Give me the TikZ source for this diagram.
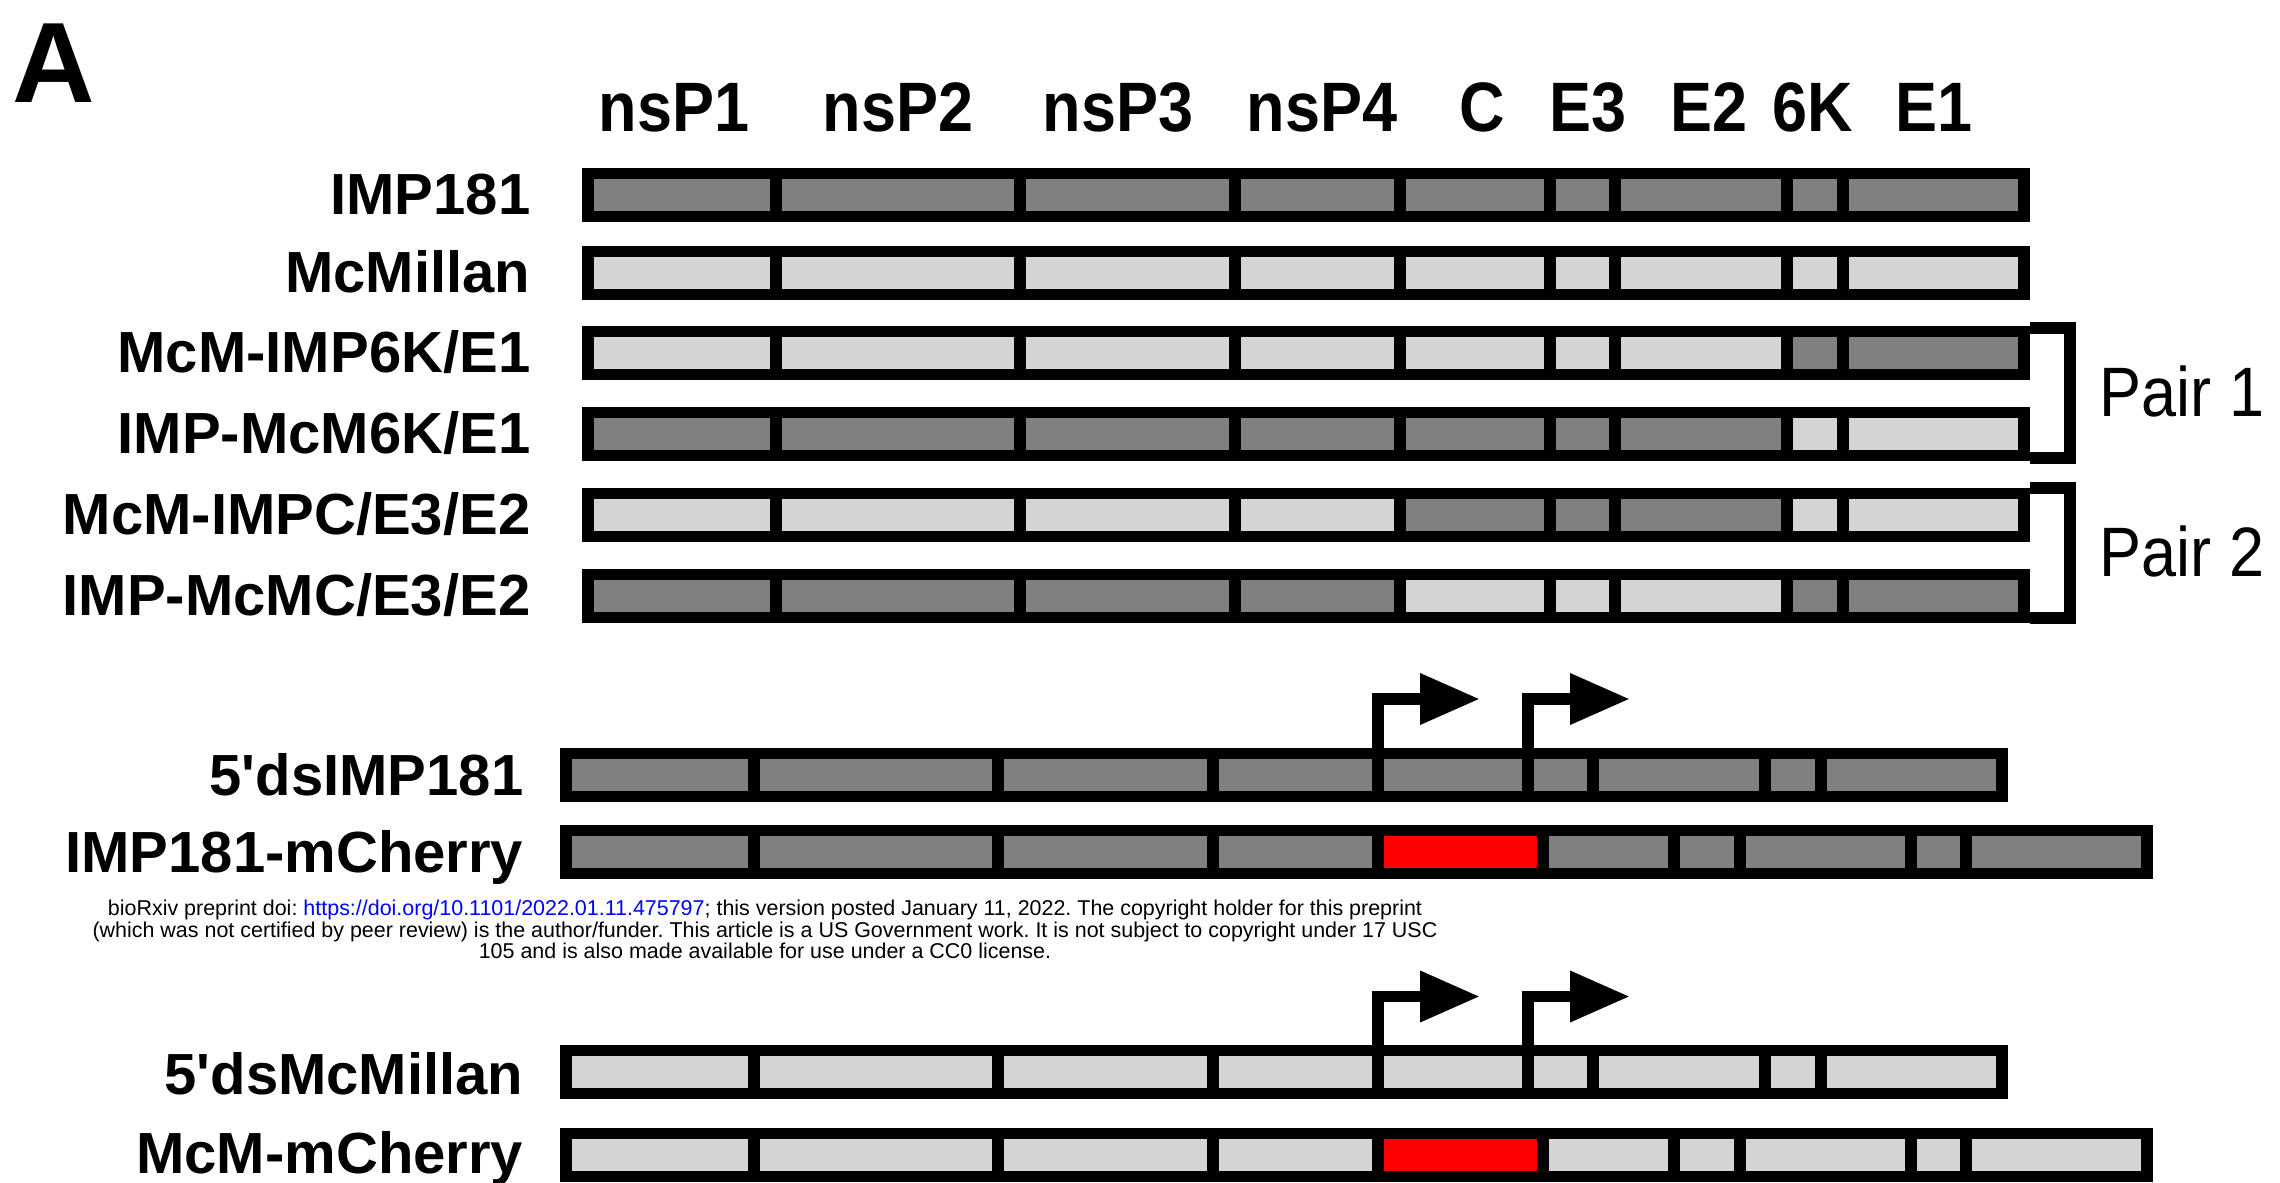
\documentclass[tikz,border=0pt]{standalone}
\usepackage{fontspec}
\setmainfont{Liberation Sans}[Ligatures=TeXOff]
\newfontfamily\narrowfont[FakeStretch=0.9]{Liberation Sans}
\usetikzlibrary{arrows.meta}

\definecolor{imp}{gray}{0.5}
\definecolor{mcm}{gray}{0.83}
\definecolor{mch}{RGB}{255,0,0}
\definecolor{doiblue}{RGB}{0,0,255}

% cut points of the genome bars
\def\topcuts{{588,776,1020,1235,1400,1550,1615,1787,1843,2024}}
\def\dscuts{{566,754,998,1213,1378,1528,1593,1765,1821,2002}}
\def\mchcuts{{566,754,998,1213,1378,1543,1674,1740,1911,1966,2147}}

% one genome bar: y, cut points, colours
\newcommand{\genome}[3]{%
  \foreach \col [count=\i] in {#3} {
    \pgfmathsetmacro{\xa}{#2[\i-1]}
    \pgfmathsetmacro{\xb}{#2[\i]}
    \draw[segment, fill=\col] (\xa,#1-21.5) rectangle (\xb,#1+21.5);
  }}

\begin{document}
\frenchspacing
\begin{tikzpicture}[x=0.01cm,y=-0.01cm,line join=miter,
    >={Triangle[length=17pt,width=13.7pt]},
    segment/.style={draw=black, line width=3.3pt},
    rowname/.style={anchor=base east, inner sep=0pt, font=\fontsize{16.5}{19}\selectfont\bfseries},
    colname/.style={anchor=base, inner sep=0pt, font=\narrowfont\bfseries\fontsize{19.9}{24}\selectfont},
    pairname/.style={anchor=base west, inner sep=0pt, font=\narrowfont\fontsize{19.9}{24}\selectfont},
    bracket/.style={draw=black, line width=3.4pt},
    promoter/.style={draw=black, line width=3.4pt, ->},
    note/.style={anchor=base, inner sep=0pt, font=\fontsize{6.1}{7}\selectfont}]

    \useasboundingbox (0,0) rectangle (2280,1183);

    % panel letter
    \node[anchor=base west, inner sep=0pt, font=\fontsize{32.5}{36}\selectfont\bfseries] (panel) at (12,103) {A};

    % gene names on top
    \foreach \name/\x in {nsP1/674, nsP2/898, nsP3/1118, nsP4/1322, C/1482, E3/1588, E2/1709, 6K/1813, E1/1934}
        \node[colname] (g-\name) at (\x,132) {\name};

    % parents and chimeras
    \genome{195}{\topcuts}{imp,imp,imp,imp,imp,imp,imp,imp,imp}
    \genome{273}{\topcuts}{mcm,mcm,mcm,mcm,mcm,mcm,mcm,mcm,mcm}
    \genome{353}{\topcuts}{mcm,mcm,mcm,mcm,mcm,mcm,mcm,imp,imp}
    \genome{434}{\topcuts}{imp,imp,imp,imp,imp,imp,imp,mcm,mcm}
    \genome{515}{\topcuts}{mcm,mcm,mcm,mcm,imp,imp,imp,mcm,mcm}
    \genome{596}{\topcuts}{imp,imp,imp,imp,mcm,mcm,mcm,imp,imp}

    \node[rowname] (r-imp) at (531,215) {IMP181};
    \node[rowname] (r-mcm) at (531,293) {McMillan};
    \node[rowname] (r-mcm6k) at (531,373) {McM-IMP6K/E1};
    \node[rowname] (r-imp6k) at (531,454) {IMP-McM6K/E1};
    \node[rowname] (r-mcmc) at (531,535) {McM-IMPC/E3/E2};
    \node[rowname] (r-impc) at (531,616) {IMP-McMC/E3/E2};

    % pairs
    \coordinate (p1a) at (2030,328);
    \coordinate (p1b) at (2030,458);
    \draw[bracket] (p1a) -- ++(40,0) |- (p1b);
    \node[pairname] (pair1) at (2099,417) {Pair 1};
    \coordinate (p2a) at (2030,488);
    \coordinate (p2b) at (2030,618);
    \draw[bracket] (p2a) -- ++(40,0) |- (p2b);
    \node[pairname] (pair2) at (2099,577) {Pair 2};

    % IMP181 replicons
    \genome{775}{\dscuts}{imp,imp,imp,imp,imp,imp,imp,imp,imp}
    \genome{852}{\mchcuts}{imp,imp,imp,imp,mch,imp,imp,imp,imp,imp}
    \node[rowname] (r-dsimp) at (524,795) {5'dsIMP181};
    \node[rowname] (r-mchimp) at (524,872) {IMP181-mCherry};
    \coordinate (tss1) at (1378,753.5);
    \coordinate (tss2) at (1528,753.5);
    \draw[promoter] (tss1) |- ++(102,-54.5);
    \draw[promoter] (tss2) |- ++(102,-54.5);

    % preprint note
    \node[note] (doi1) at (765,915) {bioRxiv preprint doi: \textcolor{doiblue}{https://doi.org/10.1101/2022.01.11.475797}; this version posted January 11, 2022. The copyright holder for this preprint};
    \node[note] (doi2) at (765,937) {(which was not certified by peer review) is the author/funder. This article is a US Government work. It is not subject to copyright under 17 USC};
    \node[note] (doi3) at (765,958) {105 and is also made available for use under a CC0 license.};

    % McMillan replicons
    \genome{1072}{\dscuts}{mcm,mcm,mcm,mcm,mcm,mcm,mcm,mcm,mcm}
    \genome{1155}{\mchcuts}{mcm,mcm,mcm,mcm,mch,mcm,mcm,mcm,mcm,mcm}
    \node[rowname] (r-dsmcm) at (524,1094) {5'dsMcMillan};
    \node[rowname] (r-mchmcm) at (524,1173) {McM-mCherry};
    \coordinate (tss3) at (1378,1050.5);
    \coordinate (tss4) at (1528,1050.5);
    \draw[promoter] (tss3) |- ++(102,-54);
    \draw[promoter] (tss4) |- ++(102,-54);
\end{tikzpicture}
\end{document}
